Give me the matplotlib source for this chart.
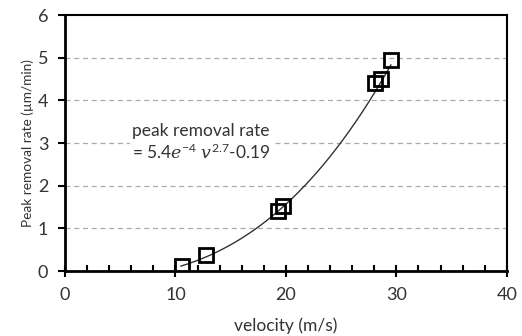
import numpy as np
import matplotlib
matplotlib.use("Agg")
import matplotlib.pyplot as plt
from matplotlib.ticker import MultipleLocator

plt.rcParams['font.family'] = ['Lato', 'DejaVu Sans']
plt.rcParams['mathtext.fontset'] = 'custom'
plt.rcParams['mathtext.rm'] = 'Lato'
plt.rcParams['mathtext.it'] = 'DejaVu Serif:italic'

velocity = [10.55, 12.8, 19.25, 19.7, 28.1, 28.6, 29.5]
removal_rate = [0.11, 0.37, 1.40, 1.52, 4.40, 4.50, 4.94]
fit_a, fit_b, fit_c = 5.4e-4, 2.7, -0.19
fit_range = [10.5, 29.5]

fig = plt.figure(figsize=(5.22, 3.36), dpi=100)
ax = fig.add_axes([0.1245, 0.193, 0.8465, 0.762])

v = np.linspace(fit_range[0], fit_range[1], 200)
ax.plot(v, fit_a * v ** fit_b + fit_c, color='#333333', lw=1.0, zorder=3)
ax.plot(velocity, removal_rate, linestyle='none', marker='s', ms=10.5,
        mfc='none', mec='black', mew=2.0, zorder=4)

ax.set_xlim(0, 40)
ax.set_ylim(0, 6)
ax.xaxis.set_major_locator(MultipleLocator(10))
ax.xaxis.set_minor_locator(MultipleLocator(2))
ax.yaxis.set_major_locator(MultipleLocator(1))
ax.tick_params(axis='x', which='major', direction='inout', length=9, width=1.5,
               labelsize=13, pad=7, labelcolor='#333333')
ax.tick_params(axis='x', which='minor', direction='in', length=4, width=1.5)
ax.tick_params(axis='y', which='major', direction='out', length=5, width=1.5,
               labelsize=13, pad=7, labelcolor='#333333')
for y in [1, 2, 3, 4, 5]:
    ax.axhline(y, color='#aaaaaa', lw=0.9, ls=(0, (4, 3)), zorder=1)
for s in ['left', 'bottom']:
    ax.spines[s].set_linewidth(2.0)
for s in ['top', 'right']:
    ax.spines[s].set_linewidth(1.5)

ax.set_xlabel('velocity (m/s)', fontsize=12.5, labelpad=10, color='#333333')
ax.set_ylabel('Peak removal rate (µm/min)', fontsize=9.8, labelpad=3, color='#333333')

ax.text(6.1, 3.02, 'peak removal rate\n= 5.4$\\mathit{e}^{-4}$ $\\mathit{v}^{2.7}$-0.19',
        fontsize=12.5, linespacing=1.25, va='center', ha='left', zorder=2,
        color='#333333', bbox=dict(facecolor='white', edgecolor='none', pad=2))

fig.savefig('out.png', dpi=100)
